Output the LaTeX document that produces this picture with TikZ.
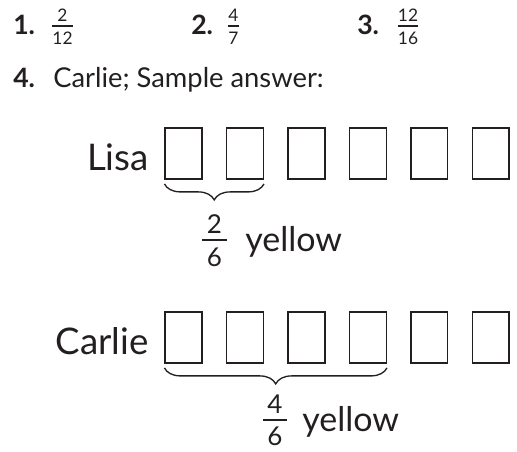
\documentclass[tikz,border=0pt]{standalone}
\usepackage{fontspec}
\setmainfont{Lato}
\usetikzlibrary{positioning,decorations.pathreplacing}
\definecolor{inkgray}{HTML}{231F20}
\tikzset{
  partbox/.style={rectangle, draw=inkgray, line width=1.1pt, inner sep=0pt,
                  minimum width=27.5pt, minimum height=38.5pt},
  namelab/.style={anchor=base east, inner sep=0pt, text=inkgray,
                  font=\fontsize{27.5}{32}\selectfont},
  itemnum/.style={anchor=base west, inner sep=0pt, text=inkgray,
                  font=\bfseries\fontsize{20}{24}\selectfont},
  itemtxt/.style={anchor=base west, inner sep=0pt, text=inkgray,
                  font=\fontsize{20.5}{24}\selectfont},
  smalldig/.style={inner sep=0pt, text=inkgray, font=\fontsize{13}{15}\selectfont},
  bigdig/.style={inner sep=0pt, text=inkgray, font=\fontsize{19.5}{23}\selectfont},
  colourtxt/.style={anchor=base west, inner sep=0pt, text=inkgray,
                    font=\fontsize{25.5}{30}\selectfont},
  fracbar/.style={draw=inkgray, line width=1pt},
  bigbar/.style={draw=inkgray, line width=1.8pt},
  partbrace/.style={draw=inkgray, line width=1pt,
                    decorate, decoration={brace, mirror, amplitude=12pt}},
}
\begin{document}
\begin{tikzpicture}[x=0.75pt, y=-0.75pt, node distance=17.5pt]
    \useasboundingbox (0,0) rectangle (517,452);
    % answers 1 to 3
    \node[itemnum] (q1) at (13,35) {1.};
    \coordinate (f1) at (62.5,26);
    \node[smalldig, above=3pt of f1] (f1n) {2};
    \node[smalldig, below=4.5pt of f1] (f1d) {12};
    \coordinate (f1a) at (52,26);
    \coordinate (f1b) at (73,26);
    \draw[fracbar] (f1a) -- (f1b);
    \node[itemnum] (q2) at (191,35) {2.};
    \coordinate (f2) at (233.5,26);
    \node[smalldig, above=3pt of f2] (f2n) {4};
    \node[smalldig, below=4.5pt of f2] (f2d) {7};
    \coordinate (f2a) at (228,26);
    \coordinate (f2b) at (239,26);
    \draw[fracbar] (f2a) -- (f2b);
    \node[itemnum] (q3) at (357,35) {3.};
    \coordinate (f3) at (408,26);
    \node[smalldig, above=3pt of f3] (f3n) {12};
    \node[smalldig, below=4.5pt of f3] (f3d) {16};
    \coordinate (f3a) at (398,26);
    \coordinate (f3b) at (418,26);
    \draw[fracbar] (f3a) -- (f3b);
    % answer 4
    \node[itemnum] (q4) at (13,88) {4.};
    \node[itemtxt] (q4t) at (53,88) {Carlie; Sample answer:};
    % Lisa
    \node[partbox] (l1) at (183.5,153.5) {};
    \node[partbox, right=of l1] (l2) {};
    \node[partbox, right=of l2] (l3) {};
    \node[partbox, right=of l3] (l4) {};
    \node[partbox, right=of l4] (l5) {};
    \node[partbox, right=of l5] (l6) {};
    \node[namelab] (lisa) at (149,171) {Lisa};
    \draw[partbrace] ([yshift=-3pt]l1.south west) -- ([yshift=-3pt]l2.south east);
    \coordinate (lf) at (214.5,240);
    \node[bigdig, above=5pt of lf] (lfn) {2};
    \node[bigdig, below=6pt of lf] (lfd) {6};
    \coordinate (lfa) at (202,240);
    \coordinate (lfb) at (227,240);
    \draw[bigbar] (lfa) -- (lfb);
    \node[colourtxt] (ly) at (245,252) {yellow};
    % Carlie
    \node[partbox] (c1) at (183.5,337.5) {};
    \node[partbox, right=of c1] (c2) {};
    \node[partbox, right=of c2] (c3) {};
    \node[partbox, right=of c3] (c4) {};
    \node[partbox, right=of c4] (c5) {};
    \node[partbox, right=of c5] (c6) {};
    \node[namelab] (carlie) at (149,354) {Carlie};
    \draw[partbrace] ([yshift=-3pt]c1.south west) -- ([yshift=-3pt]c4.south east);
    \coordinate (cf) at (275,420);
    \node[bigdig, above=5pt of cf] (cfn) {4};
    \node[bigdig, below=5pt of cf] (cfd) {6};
    \coordinate (cfa) at (263,420);
    \coordinate (cfb) at (287,420);
    \draw[bigbar] (cfa) -- (cfb);
    \node[colourtxt] (cy) at (302,431) {yellow};
\end{tikzpicture}
\end{document}
